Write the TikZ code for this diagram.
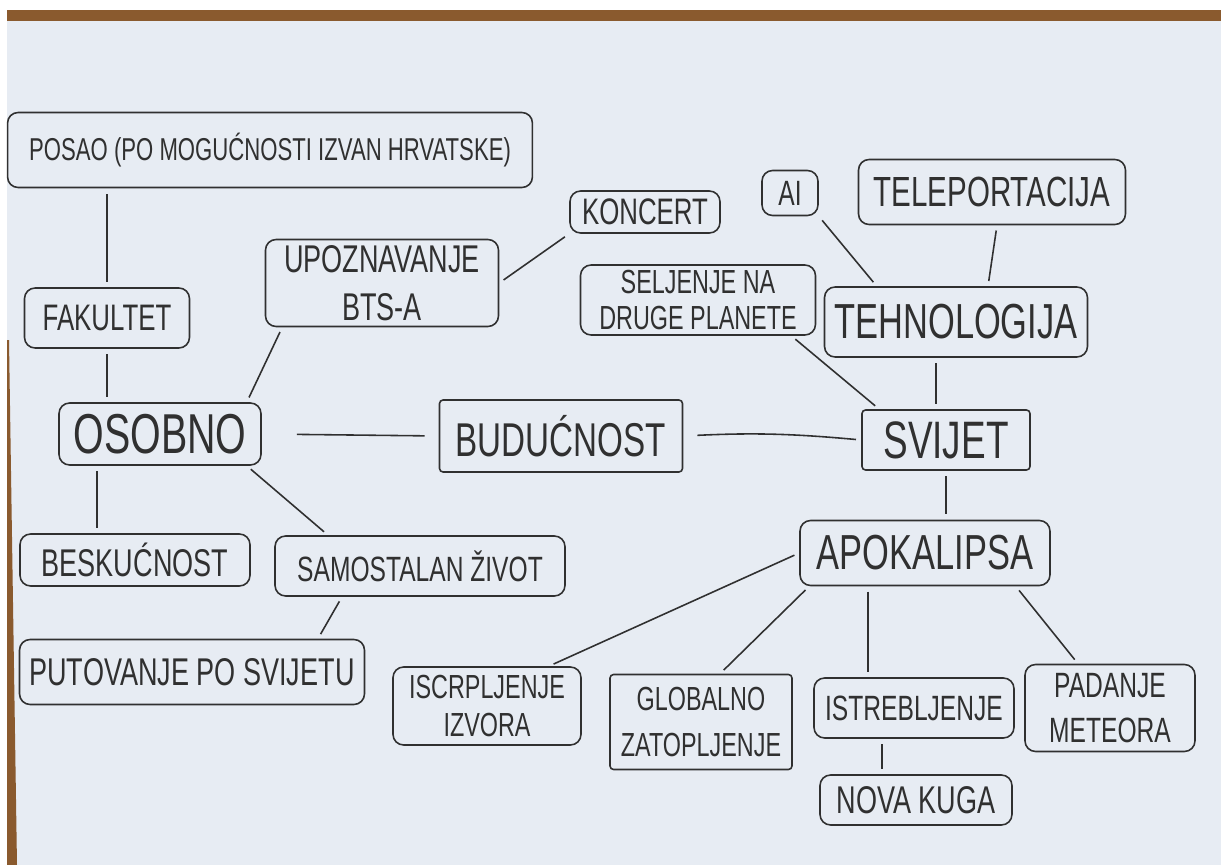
\documentclass[tikz,border=0pt]{standalone}
\usepackage{fontspec}
\setmainfont{Liberation Sans}[FakeStretch=0.7]
\definecolor{ink}{HTML}{303030}
\definecolor{paper}{HTML}{E7ECF3}
\definecolor{wood}{HTML}{8A5A2E}

\tikzset{
  box/.style={draw=ink, line width=0.9pt, rounded corners=6pt, align=center, text=ink, inner sep=1pt},
  link/.style={draw=ink, line width=0.9pt, shorten <=3pt, shorten >=3pt},
}

\begin{document}
\begin{tikzpicture}[x=0.02cm, y=-0.02cm]
\useasboundingbox (0,0) rectangle (1221,865);
% paper on the table
\fill[white] (0,0) rectangle (1221,865);
\fill[wood] (7,10) rectangle (1221,21);
\fill[paper] (7,21) rectangle (1221,865);
\fill[wood] (7,340) -- (9,340) -- (17,865) -- (7,865) -- cycle;

% osobno
\node[box, minimum width=10.5cm, minimum height=1.5cm, font=\fontsize{18}{22}\selectfont] (posao) at (270,150) {POSAO (PO MOGUĆNOSTI IZVAN HRVATSKE)};
\node[box, minimum width=3.3cm, minimum height=1.2cm, font=\fontsize{21}{24}\selectfont] (fakultet) at (107,318) {FAKULTET};
\node[box, minimum width=4.04cm, minimum height=1.24cm, font=\fontsize{32}{36}\selectfont] (osobno) at (160,434) {OSOBNO};
\node[box, minimum width=4.6cm, minimum height=1.04cm, font=\fontsize{22}{25}\selectfont] (beskucnost) at (135,560) {BESKUĆNOST};
\node[box, minimum width=5.8cm, minimum height=1.2cm, font=\fontsize{20}{23}\selectfont] (samostalan) at (420,566) {SAMOSTALAN ŽIVOT};
\node[box, minimum width=6.9cm, minimum height=1.3cm, font=\fontsize{22}{25}\selectfont] (putovanje) at (192,672) {PUTOVANJE PO SVIJETU};
\node[box, minimum width=4.66cm, minimum height=1.74cm, font=\fontsize{22}{27}\selectfont] (upoznavanje) at (382,283) {UPOZNAVANJE\\BTS-A};
\node[box, minimum width=3cm, minimum height=0.84cm, font=\fontsize{21}{24}\selectfont] (koncert) at (645,212) {KONCERT};

% centar
\node[box, minimum width=4.86cm, minimum height=1.44cm, rounded corners=2pt, font=\fontsize{27}{30}\selectfont] (buducnost) at (561,436) {BUDUĆNOST};

% svijet
\node[box, minimum width=1.12cm, minimum height=0.9cm, font=\fontsize{20}{23}\selectfont] (ai) at (790,193) {AI};
\node[box, minimum width=5.34cm, minimum height=1.3cm, font=\fontsize{24}{27}\selectfont] (teleportacija) at (992,192) {TELEPORTACIJA};
\node[box, minimum width=4.7cm, minimum height=1.4cm, font=\fontsize{19}{21}\selectfont] (seljenje) at (698,300) {SELJENJE NA\\DRUGE PLANETE};
\node[box, minimum width=5.26cm, minimum height=1.4cm, font=\fontsize{28}{31}\selectfont] (tehnologija) at (956,322) {TEHNOLOGIJA};
\node[box, minimum width=3.36cm, minimum height=1.2cm, rounded corners=2pt, font=\fontsize{30}{33}\selectfont] (svijet) at (946,440) {SVIJET};
\node[box, minimum width=5cm, minimum height=1.3cm, font=\fontsize{28}{31}\selectfont] (apokalipsa) at (925,553) {APOKALIPSA};
\node[box, minimum width=3.76cm, minimum height=1.56cm, font=\fontsize{19}{22}\selectfont] (iscrpljenje) at (487,706) {ISCRPLJENJE\\IZVORA};
\node[box, minimum width=3.64cm, minimum height=1.9cm, rounded corners=2pt, font=\fontsize{19}{26}\selectfont] (globalno) at (701,722) {GLOBALNO\\ZATOPLJENJE};
\node[box, minimum width=4cm, minimum height=1.2cm, font=\fontsize{20}{23}\selectfont] (istrebljenje) at (914,708) {ISTREBLJENJE};
\node[box, minimum width=3.84cm, minimum height=1cm, font=\fontsize{22}{25}\selectfont] (novakuga) at (916,800) {NOVA KUGA};
\node[box, minimum width=3.4cm, minimum height=1.74cm, font=\fontsize{20}{26}\selectfont] (padanje) at (1110,708) {PADANJE\\METEORA};

% veze lijevo
\path[link] (fakultet.north) -- (fakultet.north |- posao.south);
\path[link] (fakultet.south) -- (fakultet.south |- osobno.north);
\path[link] ([xshift=-1.26cm]osobno.south) -- ([xshift=-1.26cm]osobno.south |- beskucnost.north);
\path[link] ([xshift=-0.3cm]osobno.south east) -- ([xshift=-1.84cm]samostalan.north);
\path[link] ([xshift=-1.56cm]samostalan.south) -- ([xshift=2.52cm]putovanje.north);
\path[link] ([xshift=-0.3cm]osobno.north east) -- ([xshift=0.35cm]upoznavanje.south west);
\path[link] (upoznavanje.east) -- (koncert.south west);
\path[link, shorten <=20pt, shorten >=8pt] (osobno.east) -- (buducnost.west);

% veze desno
\path[link, shorten <=8pt] (buducnost.east) to[bend left=4] (svijet.west);
\path[link] ([xshift=-0.5cm]seljenje.south east) -- ([xshift=0.36cm]svijet.north west);
\path[link] ([xshift=-0.2cm]svijet.north) -- ([xshift=-0.2cm]svijet.north |- tehnologija.south);
\path[link] (ai.south east) -- ([xshift=1.06cm]tehnologija.north west);
\path[link] ([xshift=0.64cm]tehnologija.north) -- ([xshift=0.1cm]teleportacija.south);
\path[link] (svijet.south) -- (svijet.south |- apokalipsa.north);
\path[link] (apokalipsa.west) -- ([xshift=-0.66cm]iscrpljenje.north east);
\path[link] ([xshift=0.2cm]apokalipsa.south west) -- ([xshift=0.38cm]globalno.north);
\path[link] ([xshift=-1.14cm]apokalipsa.south) -- ([xshift=-1.14cm]apokalipsa.south |- istrebljenje.north);
\path[link] ([xshift=-0.7cm]apokalipsa.south east) -- ([xshift=-0.64cm]padanje.north);
\path[link] ([xshift=-0.64cm]istrebljenje.south) -- ([xshift=-0.64cm]istrebljenje.south |- novakuga.north);
\end{tikzpicture}
\end{document}
